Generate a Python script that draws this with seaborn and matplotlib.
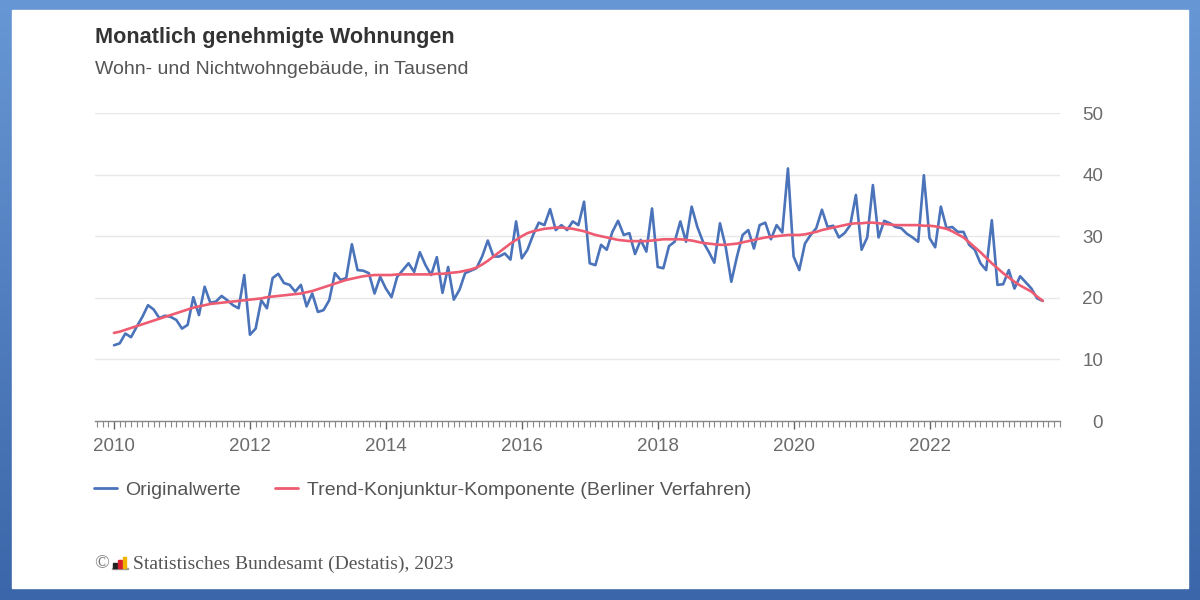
import numpy as np
import pandas as pd
import matplotlib
matplotlib.use('Agg')
import matplotlib.pyplot as plt
from matplotlib.patches import Rectangle
import seaborn as sns

# monthly approved dwellings (thousands), Jan 2010 - Sep 2023
original_2010_2013 = [
    12.3, 12.6, 14.2, 13.6, 15.3, 16.9, 18.8, 18.1, 16.7, 17.1, 16.9, 16.4,
    15.0, 15.6, 20.1, 17.2, 21.8, 19.2, 19.4, 20.3, 19.6, 18.8, 18.3, 23.7,
    14.0, 15.0, 19.6, 18.3, 23.2, 23.9, 22.4, 22.1, 21.0, 22.1, 18.6, 20.7,
    17.7, 18.0, 19.6, 24.0, 22.9, 23.2, 28.7, 24.5, 24.4, 24.0, 20.7, 23.4,
]
original_2014_2017 = [
    21.5, 20.1, 23.4, 24.5, 25.6, 24.2, 27.4, 25.3, 23.7, 26.6, 20.8, 25.0,
    19.7, 21.3, 24.0, 24.4, 24.8, 26.7, 29.3, 26.7, 26.7, 27.2, 26.2, 32.4,
    26.4, 27.8, 30.2, 32.2, 31.8, 34.4, 31.0, 31.8, 31.0, 32.4, 31.8, 35.6,
    25.6, 25.3, 28.6, 27.8, 30.7, 32.5, 30.2, 30.5, 27.1, 29.4, 27.5, 34.5,
]
original_2018_2021 = [
    25.0, 24.8, 28.4, 29.1, 32.4, 29.1, 34.8, 31.5, 29.1, 27.5, 25.7, 32.1,
    28.3, 22.6, 26.7, 30.2, 31.0, 28.0, 31.8, 32.2, 29.5, 31.8, 30.6, 41.0,
    26.7, 24.5, 28.8, 30.2, 31.3, 34.3, 31.5, 31.7, 29.8, 30.5, 31.8, 36.7,
    27.8, 29.8, 38.3, 29.8, 32.5, 32.1, 31.5, 31.3, 30.4, 29.8, 29.1, 39.9,
]
original_2022_2023 = [
    29.7, 28.2, 34.8, 31.3, 31.5, 30.7, 30.7, 28.6, 27.8, 25.6, 24.5, 32.6,
    22.1, 22.2, 24.5, 21.5, 23.5, 22.5, 21.5, 19.9, 19.5,
]

# trend-business cycle component (Berliner Verfahren)
trend_2010_2013 = [
    14.3, 14.5, 14.8, 15.1, 15.4, 15.7, 16.0, 16.3, 16.6, 16.9, 17.2, 17.5,
    17.8, 18.1, 18.4, 18.6, 18.8, 19.0, 19.1, 19.2, 19.3, 19.4, 19.5, 19.6,
    19.7, 19.8, 19.9, 20.1, 20.2, 20.3, 20.4, 20.5, 20.6, 20.7, 20.9, 21.1,
    21.4, 21.7, 22.0, 22.3, 22.6, 22.9, 23.1, 23.3, 23.5, 23.6, 23.7, 23.7,
]
trend_2014_2017 = [
    23.7, 23.7, 23.8, 23.8, 23.8, 23.8, 23.8, 23.8, 23.8, 23.9, 23.9, 24.0,
    24.1, 24.2, 24.4, 24.6, 24.9, 25.4, 26.0, 26.7, 27.4, 28.1, 28.8, 29.4,
    30.0, 30.5, 30.8, 31.0, 31.2, 31.3, 31.4, 31.4, 31.3, 31.2, 31.0, 30.8,
    30.5, 30.2, 30.0, 29.8, 29.6, 29.4, 29.3, 29.2, 29.2, 29.2, 29.2, 29.3,
]
trend_2018_2021 = [
    29.4, 29.5, 29.5, 29.5, 29.5, 29.4, 29.3, 29.1, 28.9, 28.8, 28.7, 28.6,
    28.6, 28.7, 28.8, 29.0, 29.2, 29.4, 29.6, 29.8, 29.9, 30.0, 30.1, 30.2,
    30.2, 30.2, 30.3, 30.5, 30.7, 31.0, 31.2, 31.4, 31.6, 31.8, 32.0, 32.1,
    32.1, 32.2, 32.2, 32.1, 32.0, 31.9, 31.8, 31.8, 31.8, 31.8, 31.8, 31.7,
]
trend_2022_2023 = [
    31.7, 31.6, 31.4, 31.2, 30.8, 30.3, 29.8, 29.0, 28.2, 27.4, 26.5, 25.6,
    24.8, 24.0, 23.3, 22.6, 22.0, 21.5, 21.0, 20.2, 19.5,
]

original = original_2010_2013 + original_2014_2017 + original_2018_2021 + original_2022_2023
trend = trend_2010_2013 + trend_2014_2017 + trend_2018_2021 + trend_2022_2023

year_ticks = [2010, 2012, 2014, 2016, 2018, 2020, 2022]
y_ticks = [0, 10, 20, 30, 40, 50]

title = 'Monatlich genehmigte Wohnungen'
subtitle = 'Wohn- und Nichtwohngebäude, in Tausend'
label_orig = 'Originalwerte'
label_trend = 'Trend-Konjunktur-Komponente (Berliner Verfahren)'
source = 'Statistisches Bundesamt (Destatis), 2023'

months = pd.date_range('2010-01-01', periods=len(original), freq='MS')
df = pd.DataFrame({
    't': months.year + (months.month - 1) / 12,
    'orig': original,
    'trend': trend,
})

sns.set_style('white')
plt.rcParams['font.family'] = ['Liberation Sans', 'DejaVu Sans']

BLUE = '#4a73ba'
RED = '#ee5c72'

fig = plt.figure(figsize=(12, 6), dpi=100)

# blue frame around the white card
bg = fig.add_axes([0, 0, 1, 1], zorder=-10)
grad = np.linspace(0, 1, 256).reshape(-1, 1)
bg.imshow(grad, aspect='auto', extent=[0, 1, 0, 1], origin='lower',
          cmap=matplotlib.colors.LinearSegmentedColormap.from_list('frame', ['#3b66a9', '#6897d5']))
bg.add_patch(Rectangle((12 / 1200, 12 / 600), 1176 / 1200, 578 / 600, color='white', zorder=2))
bg.set_xlim(0, 1)
bg.set_ylim(0, 1)
bg.axis('off')

ax = fig.add_axes([95 / 1200, 179 / 600, 965 / 1200, 308 / 600])
ax.set_facecolor('none')

sns.lineplot(data=df, x='t', y='orig', ax=ax, color=BLUE, linewidth=1.9, label=label_orig)
sns.lineplot(data=df, x='t', y='trend', ax=ax, color=RED, linewidth=1.9, label=label_trend)

ax.set_xlim(2009.72, 2023.92)
ax.set_ylim(0, 50)
ax.set_xlabel('')
ax.set_ylabel('')

# y axis on the right, no ticks, light grid
ax.yaxis.tick_right()
ax.set_yticks(y_ticks)
ax.set_yticklabels([str(v) for v in y_ticks], ha='right')
ax.tick_params(axis='y', length=0, pad=31, labelsize=13.5, labelcolor='#6b6b6b')
ax.grid(axis='y', color='#e8e8e8', linewidth=1)
ax.grid(axis='x', visible=False)

# x axis with monthly minor ticks
ax.set_xticks(year_ticks)
ax.set_xticklabels([str(y) for y in year_ticks])
ax.set_xticks(np.arange(2009.75, 2023.92, 1 / 12), minor=True)
ax.tick_params(axis='x', which='major', direction='out', length=6, width=1, color='#666666',
               pad=6, labelsize=13.5, labelcolor='#6b6b6b', bottom=True)
ax.tick_params(axis='x', which='minor', direction='out', length=4, width=0.8, color='#888888', bottom=True)

for side in ['top', 'left', 'right']:
    ax.spines[side].set_visible(False)
ax.spines['bottom'].set_color('#888888')
ax.spines['bottom'].set_linewidth(1)

leg = ax.legend(loc='center left', bbox_to_anchor=(94 / 1200, 1 - 490 / 600),
                bbox_transform=fig.transFigure, frameon=False, ncol=2, fontsize=14,
                handlelength=1.2, handletextpad=0.42, columnspacing=1.75, borderpad=0,
                borderaxespad=0)
for txt in leg.get_texts():
    txt.set_color('#555555')
for line in leg.get_lines():
    line.set_linewidth(2)

fig.text(95 / 1200, 1 - 37 / 600, title, fontsize=15.6, fontweight='bold', color='#333333', va='center')
fig.text(95 / 1200, 1 - 70 / 600, subtitle, fontsize=14, color='#555555', va='center')

# source line with small Destatis logo bars
fig.text(94 / 1200, 1 - 564 / 600, '©', fontsize=14, color='#777777', va='center',
         family=['Liberation Serif', 'DejaVu Serif'])
fig.patches.append(Rectangle((112 / 1200, 1 - 569 / 600), 16 / 1200, 1 / 600, color='#999999',
                             transform=fig.transFigure, figure=fig))
for x0, h, c in [(113, 5, '#222222'), (118, 8, '#d8202f'), (123, 11, '#f2b300')]:
    fig.patches.append(Rectangle((x0 / 1200, 1 - 568 / 600), 3.5 / 1200, h / 600, color=c,
                                 transform=fig.transFigure, figure=fig))
fig.text(133 / 1200, 1 - 564 / 600, source, fontsize=14,
         color='#555555', va='center', family=['Liberation Serif', 'DejaVu Serif'])

fig.savefig('out.png', dpi=100)
